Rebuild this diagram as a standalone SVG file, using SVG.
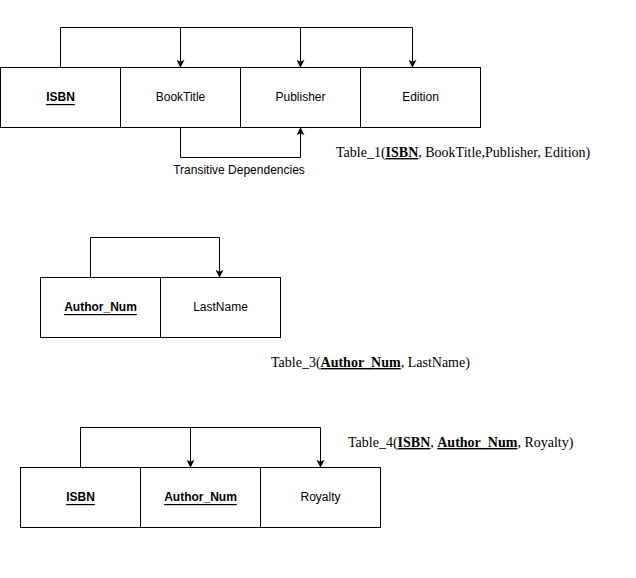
<svg xmlns="http://www.w3.org/2000/svg" width="636" height="578" viewBox="0 0 636 578">
  <style>
    .cell { fill: #ffffff; stroke: #000000; stroke-width: 1; }
    .lbl { font-family: "Liberation Sans", Arial, sans-serif; font-size: 12px; fill: #000000; text-anchor: middle; dominant-baseline: central; }
    .key { font-weight: bold; text-decoration: underline; }
    .rel { font-family: "Liberation Serif", "Times New Roman", serif; font-size: 14px; fill: #000000; }
    .relkey { font-weight: bold; text-decoration: underline; }
    .wire { fill: none; stroke: #000000; stroke-width: 1; }
  </style>
  <defs>
    <marker id="arrow" viewBox="0 0 10 10" refX="9" refY="5" markerWidth="8" markerHeight="8" markerUnits="userSpaceOnUse" orient="auto">
      <path d="M0,0 L10,5 L0,10 L2.5,5 z" fill="#000000"/>
    </marker>
  </defs>
  <rect width="636" height="578" fill="#ffffff"/>

  <!-- Table_1 -->
  <g id="t1-isbn">
    <rect class="cell" x="0.5" y="67.5" width="120" height="60"/>
    <text class="lbl key" x="60.5" y="97">ISBN</text>
  </g>
  <g id="t1-booktitle">
    <rect class="cell" x="120.5" y="67.5" width="120" height="60"/>
    <text class="lbl" x="180.5" y="97">BookTitle</text>
  </g>
  <g id="t1-publisher">
    <rect class="cell" x="240.5" y="67.5" width="120" height="60"/>
    <text class="lbl" x="300.5" y="97">Publisher</text>
  </g>
  <g id="t1-edition">
    <rect class="cell" x="360.5" y="67.5" width="120" height="60"/>
    <text class="lbl" x="420.5" y="97">Edition</text>
  </g>

  <!-- Table_3 -->
  <g id="t3-author-num">
    <rect class="cell" x="40.5" y="277.5" width="120" height="60"/>
    <text class="lbl key" x="100.5" y="307">Author_Num</text>
  </g>
  <g id="t3-lastname">
    <rect class="cell" x="160.5" y="277.5" width="120" height="60"/>
    <text class="lbl" x="220.5" y="307">LastName</text>
  </g>

  <!-- Table_4 -->
  <g id="t4-isbn">
    <rect class="cell" x="20.5" y="467.5" width="120" height="60"/>
    <text class="lbl key" x="80.5" y="497">ISBN</text>
  </g>
  <g id="t4-author-num">
    <rect class="cell" x="140.5" y="467.5" width="120" height="60"/>
    <text class="lbl key" x="200.5" y="497">Author_Num</text>
  </g>
  <g id="t4-royalty">
    <rect class="cell" x="260.5" y="467.5" width="120" height="60"/>
    <text class="lbl" x="320.5" y="497">Royalty</text>
  </g>

  <!-- dependency connectors -->
  <g id="connectors">
    <path class="wire" d="M60.5,67.5 V27.5 H412.5"/>
    <path class="wire" d="M180.5,27.5 V67" marker-end="url(#arrow)"/>
    <path class="wire" d="M300.5,27.5 V67" marker-end="url(#arrow)"/>
    <path class="wire" d="M412.5,27.5 V67" marker-end="url(#arrow)"/>
    <path class="wire" d="M180.5,127.5 V157.5 H300.5 V128" marker-end="url(#arrow)"/>

    <path class="wire" d="M90.5,277.5 V237.5 H219.5 V277" marker-end="url(#arrow)"/>

    <path class="wire" d="M80.5,467.5 V427.5 H320.5 V467" marker-end="url(#arrow)"/>
    <path class="wire" d="M190.5,427.5 V467" marker-end="url(#arrow)"/>
  </g>

  <!-- labels -->
  <g id="labels">
    <text class="lbl" x="239" y="170">Transitive Dependencies</text>
    <text class="rel" x="336" y="157">Table_1(<tspan class="relkey">ISBN</tspan>, BookTitle,Publisher, Edition)</text>
    <text class="rel" x="271" y="367">Table_3(<tspan class="relkey">Author_Num</tspan>, LastName)</text>
    <text class="rel" x="348" y="447">Table_4(<tspan class="relkey">ISBN</tspan>, <tspan class="relkey">Author_Num</tspan>, Royalty)</text>
  </g>
</svg>
